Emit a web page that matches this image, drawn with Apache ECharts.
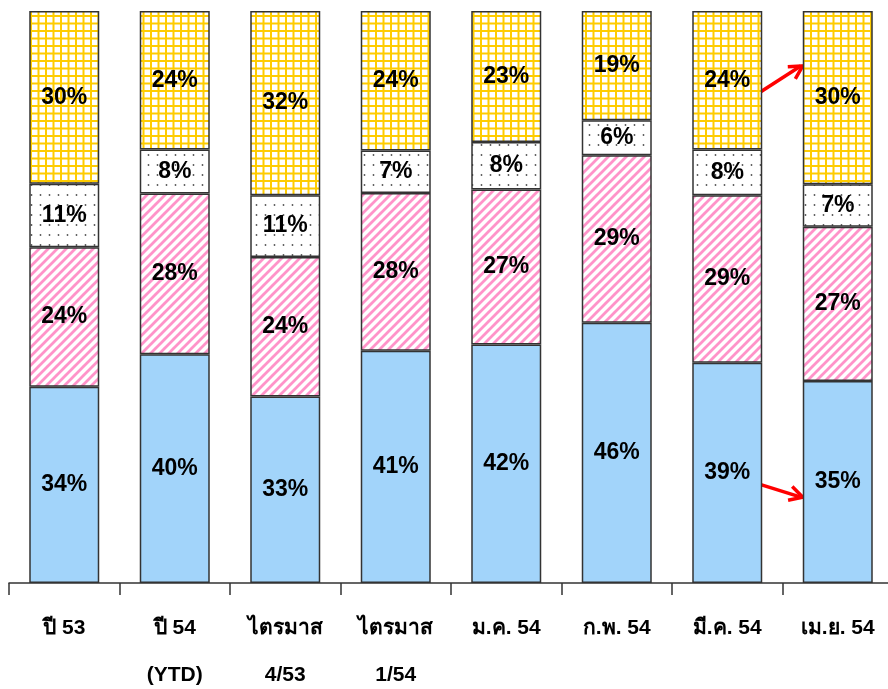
<!DOCTYPE html>
<html>
<head>
<meta charset="utf-8">
<script src="https://cdn.jsdelivr.net/npm/echarts@6/dist/echarts.min.js"></script>
<style>
  html, body { margin: 0; padding: 0; background: #fff; }
  #chart { width: 888px; height: 689px; }
</style>
</head>
<body>
<div id="chart"></div>
<script>
const categories = ['ปี 53', 'ปี 54\n(YTD)', 'ไตรมาส\n4/53', 'ไตรมาส\n1/54', 'ม.ค. 54', 'ก.พ. 54', 'มี.ค. 54', 'เม.ย. 54'];
// share of each part, % (bottom to top)
const blueShare  = [34.3, 40.0, 32.6, 40.6, 41.7, 45.5, 38.5, 35.3];
const pinkShare  = [24.4, 28.1, 24.4, 27.6, 27.1, 29.3, 29.3, 27.0];
const dotShare   = [11.1, 7.7, 10.8, 7.4, 8.3, 6.1, 8.0, 7.4];
const gridShare  = [30.2, 24.2, 32.2, 24.4, 22.9, 19.1, 24.2, 30.3];
// red arrows: [from category, from value, to category, to value]
const arrows = [[6, 85.7, 7, 90.4], [6, 17.3, 7, 15.0]];

const font = "'Liberation Sans', Arial, 'DejaVu Sans', sans-serif";

function tile(w, h, draw) {
  const c = document.createElement('canvas');
  c.width = w; c.height = h;
  const ctx = c.getContext('2d');
  ctx.fillStyle = '#fff';
  ctx.fillRect(0, 0, w, h);
  draw(ctx);
  return { image: c, repeat: 'repeat' };
}

const stripes = tile(9, 9, ctx => {
  ctx.strokeStyle = '#ff93c9';
  ctx.lineWidth = 2.8;
  ctx.beginPath();
  ctx.moveTo(-2, 2); ctx.lineTo(2, -2);
  ctx.moveTo(0, 9); ctx.lineTo(9, 0);
  ctx.moveTo(7, 11); ctx.lineTo(11, 7);
  ctx.stroke();
});
const dots = tile(9, 10, ctx => {
  ctx.fillStyle = '#555';
  ctx.beginPath();
  ctx.arc(4.5, 5, 0.9, 0, Math.PI * 2);
  ctx.fill();
});
const grid = tile(15, 15, ctx => {
  ctx.fillStyle = '#ffcc00';
  ctx.fillRect(0, 0, 15, 2);
  ctx.fillRect(0, 7.5, 15, 2);
  ctx.fillRect(0, 0, 2, 15);
  ctx.fillRect(7.5, 0, 2, 15);
});

let chart = echarts.init(document.getElementById('chart'));

function part(name, data, color) {
  return {
    name: name,
    type: 'bar',
    stack: 'all',
    barWidth: 70,
    data: data,
    itemStyle: { color: color, borderColor: '#333', borderWidth: 1.5 },
    label: {
      show: true,
      position: 'inside',
      formatter: p => Math.round(p.value) + '%',
      color: '#000',
      fontSize: 23,
      fontWeight: 'bold',
      fontFamily: font
    }
  };
}

let option = {
  backgroundColor: '#fff',
  animation: false,
  grid: { left: 9, top: 11, width: 884, bottom: 106, outerBoundsMode: 'none', containLabel: false },
  xAxis: {
    type: 'category',
    data: categories,
    axisLine: { lineStyle: { color: '#333', width: 1.5 } },
    axisTick: { show: true, interval: 0, alignWithLabel: false, length: 12, lineStyle: { color: '#333', width: 1.5 } },
    axisLabel: {
      interval: 0,
      margin: 22,
      color: '#000',
      fontSize: 21,
      fontWeight: 'bold',
      lineHeight: 47,
      fontFamily: font
    }
  },
  yAxis: { type: 'value', min: 0, max: 100, show: false, splitLine: { show: false } },
  series: [
    part('blue', blueShare, '#a2d4fa'),
    part('pink', pinkShare, stripes),
    part('dots', dotShare, dots),
    part('grid', gridShare, grid)
  ]
};

option && chart.setOption(option);

// annotation arrows, placed from the data coordinates
let half = 35;
let graphics = arrows.map(a => {
  let p0 = chart.convertToPixel({ gridIndex: 0 }, [a[0], a[1]]);
  let p1 = chart.convertToPixel({ gridIndex: 0 }, [a[2], a[3]]);
  let x0 = p0[0] + half - 3, y0 = p0[1];
  let x1 = p1[0] - half, y1 = p1[1];
  let ang = Math.atan2(y1 - y0, x1 - x0);
  let L = 15, s = 0.5;
  let h1 = [x1 - L * Math.cos(ang - s), y1 - L * Math.sin(ang - s)];
  let h2 = [x1 - L * Math.cos(ang + s), y1 - L * Math.sin(ang + s)];
  return {
    type: 'group',
    children: [
      { type: 'line', shape: { x1: x0, y1: y0, x2: x1 - 2, y2: y1 }, style: { stroke: '#ff0000', lineWidth: 3.5 } },
      { type: 'polyline', shape: { points: [h1, [x1, y1], h2] }, style: { stroke: '#ff0000', lineWidth: 3.5, fill: null, lineJoin: 'miter' } }
    ]
  };
});
chart.setOption({ graphic: graphics });
</script>
</body>
</html>
